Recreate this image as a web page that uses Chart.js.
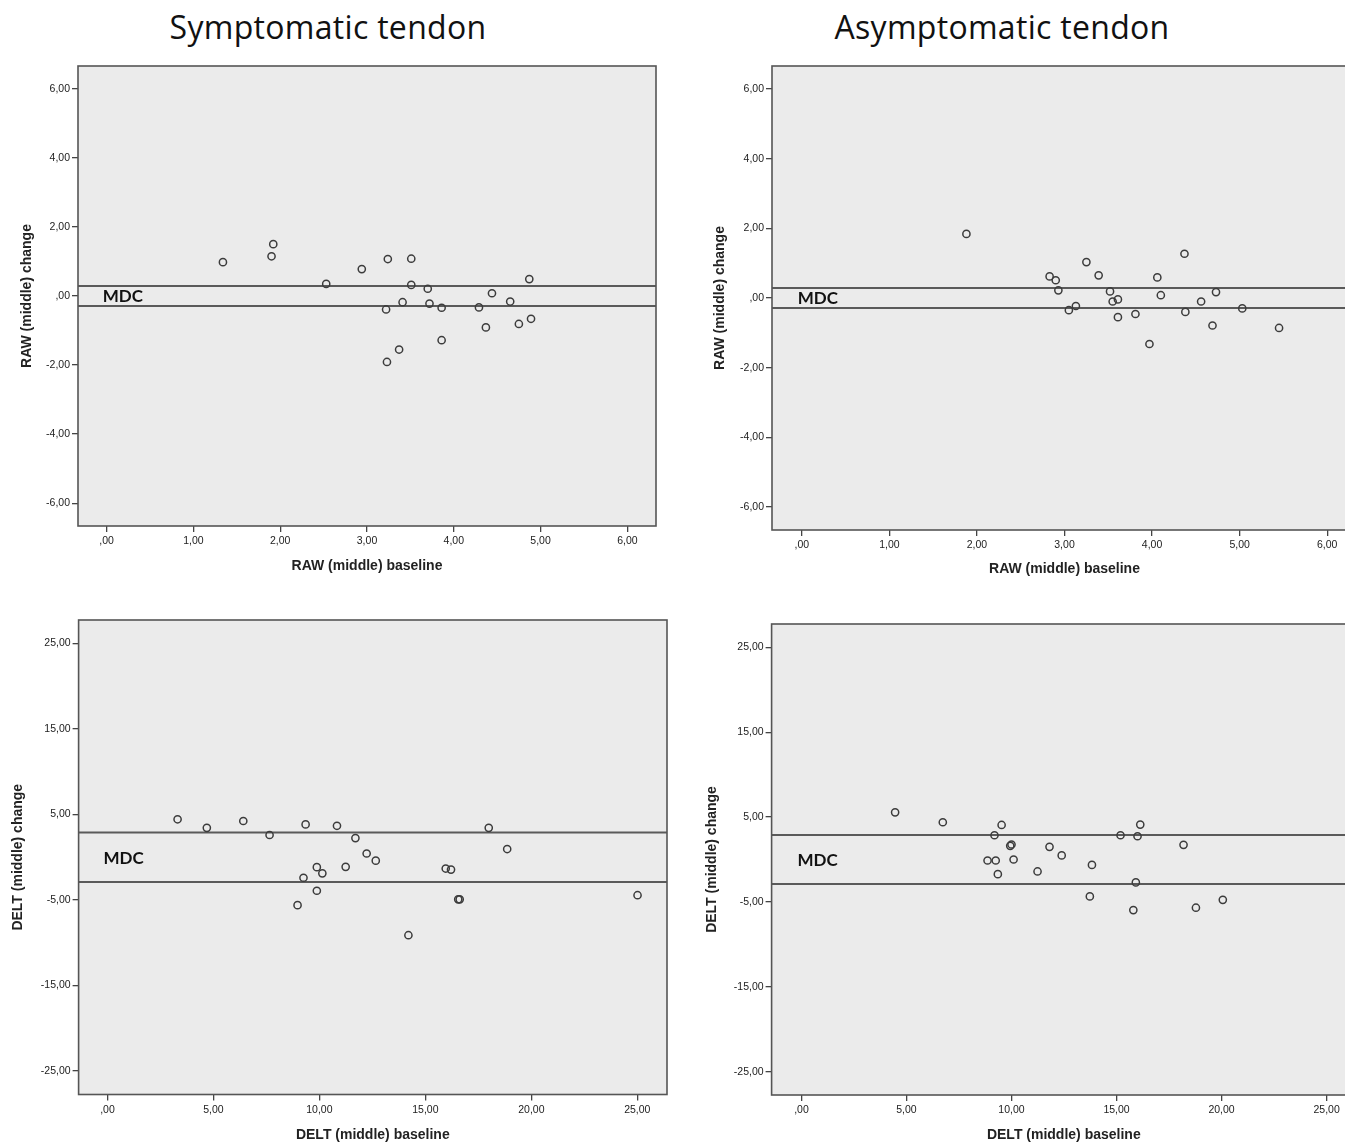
<!DOCTYPE html>
<html>
<head>
<meta charset="utf-8">
<script src="https://cdn.jsdelivr.net/npm/chart.js@4.4.1/dist/chart.umd.min.js"></script>
<style>
  html, body { margin: 0; padding: 0; background: #fff; }
  #page { position: relative; width: 1345px; height: 1143px; overflow: hidden; }
  .title { position: absolute; top: 5px; font-family: "Open Sans", Lato, sans-serif; font-size: 32px; letter-spacing: 0.3px; color: #111; transform: translateX(-50%); white-space: nowrap; }
  .box { position: absolute; }
</style>
</head>
<body>
<div id="page">
  <div class="title" style="left:328px">Symptomatic tendon</div>
  <div class="title" style="left:1002px">Asymptomatic tendon</div>
  <div class="box" style="left:0px;top:50px;width:670px;height:525px"><canvas id="c1"></canvas></div>
  <div class="box" style="left:694px;top:50px;width:673px;height:528px"><canvas id="c2"></canvas></div>
  <div class="box" style="left:0px;top:600px;width:680px;height:544px"><canvas id="c3"></canvas></div>
  <div class="box" style="left:693px;top:600px;width:673px;height:544px"><canvas id="c4"></canvas></div>
</div>
<script>
// RAW (middle) - symptomatic tendon
const sympRawBase   = [1.34, 1.92, 1.90, 2.53, 2.94, 3.24, 3.51, 3.51, 3.70, 3.41, 3.22, 3.72, 3.86, 4.29, 4.44, 4.65, 4.87, 4.89, 4.75, 4.37, 3.86, 3.37, 3.23];
const sympRawChange = [0.98, 1.50, 1.15, 0.35, 0.78, 1.07, 1.08, 0.32, 0.21, -0.18, -0.39, -0.22, -0.34, -0.33, 0.08, -0.16, 0.49, -0.66, -0.81, -0.91, -1.28, -1.55, -1.91];
// RAW (middle) - asymptomatic tendon
const asymRawBase   = [1.88, 2.83, 2.90, 2.93, 3.25, 3.39, 3.05, 3.13, 3.52, 3.55, 3.61, 3.61, 3.81, 3.97, 4.06, 4.10, 4.37, 4.38, 4.56, 4.73, 4.69, 5.03, 5.45];
const asymRawChange = [1.84, 0.62, 0.51, 0.22, 1.03, 0.65, -0.35, -0.23, 0.19, -0.10, -0.04, -0.55, -0.46, -1.32, 0.59, 0.08, 1.27, -0.40, -0.10, 0.17, -0.79, -0.30, -0.86];
// DELT (middle) - symptomatic tendon
const sympDeltBase   = [3.31, 4.69, 6.41, 7.65, 9.35, 10.83, 11.70, 12.23, 12.66, 9.88, 10.14, 11.24, 9.25, 9.88, 8.97, 15.96, 16.21, 16.55, 16.62, 17.99, 18.86, 14.20, 25.01];
const sympDeltChange = [4.44, 3.44, 4.24, 2.60, 3.84, 3.68, 2.24, 0.44, -0.40, -1.16, -1.88, -1.12, -2.40, -3.92, -5.60, -1.32, -1.44, -4.92, -4.92, 3.44, 0.96, -9.12, -4.44];
// DELT (middle) - asymptomatic tendon
const asymDeltBase   = [4.46, 6.73, 9.53, 9.19, 9.94, 10.00, 8.86, 9.25, 9.35, 10.10, 11.24, 11.81, 12.39, 13.83, 13.73, 15.19, 16.00, 16.13, 15.92, 15.80, 18.19, 18.78, 20.06];
const asymDeltChange = [5.56, 4.39, 4.07, 2.86, 1.61, 1.77, -0.12, -0.12, -1.73, 0.00, -1.41, 1.49, 0.48, -0.64, -4.35, 2.86, 2.74, 4.11, -2.70, -5.96, 1.73, -5.68, -4.75];

// minimal detectable change bands
const rawMdc = 0.29;
const deltMdc = 2.9;
const mdcLabel = 'MDC';

// tick values
const rawXTicks  = [0, 1, 2, 3, 4, 5, 6];
const rawYTicks  = [-6, -4, -2, 0, 2, 4, 6];
const deltXTicks = [0, 5, 10, 15, 20, 25];
const deltYTicks = [-25, -15, -5, 5, 15, 25];

const tickFont = { family: "'Liberation Sans', Arial, sans-serif", size: 10.5 };
const titleFont = { family: "'Liberation Sans', Arial, sans-serif", size: 14, weight: 'bold' };

// comma decimals, SPSS style (",00" for zero)
function fmt(v) {
  let s = Math.abs(v).toFixed(2).replace('.', ',');
  if (Math.abs(v) < 1) s = s.slice(1);
  return (v < 0 ? '-' : '') + s;
}

const framePlugin = {
  id: 'frame',
  beforeDatasetsDraw(chart) {
    const a = chart.chartArea, ctx = chart.ctx;
    ctx.save();
    ctx.fillStyle = '#ebebeb';
    ctx.fillRect(a.left, a.top, a.right - a.left, a.bottom - a.top);
    ctx.restore();
  },
  afterDatasetsDraw(chart) {
    const a = chart.chartArea, ctx = chart.ctx;
    ctx.save();
    ctx.strokeStyle = '#555';
    ctx.lineWidth = 1.6;
    ctx.strokeRect(a.left, a.top, a.right - a.left, a.bottom - a.top);
    // MDC label
    const xs = chart.scales.x, ys = chart.scales.y;
    ctx.fillStyle = '#111';
    ctx.font = "bold 17px Lato, 'Open Sans', sans-serif";
    ctx.textBaseline = 'middle';
    ctx.fillText(mdcLabel, xs.getPixelForValue(0) - 4, ys.getPixelForValue(0) + 1);
    ctx.restore();
  }
};

function makeChart(id, o) {
  const pts = o.xs.map((x, i) => ({ x: x, y: o.ys[i] }));
  const line = v => [{ x: o.xMin, y: v }, { x: o.xMax, y: v }];
  const lineDs = v => ({
    type: 'line', data: line(v), borderColor: '#5a5a5a', borderWidth: 2,
    pointRadius: 0, fill: false, order: 2
  });
  return new Chart(document.getElementById(id), {
    type: 'scatter',
    data: {
      datasets: [
        {
          data: pts, pointStyle: 'circle', pointRadius: 3.6, pointBorderWidth: 1.5,
          pointBorderColor: '#3c3c3c', pointBackgroundColor: 'rgba(0,0,0,0)', order: 1
        },
        lineDs(o.mdc), lineDs(-o.mdc)
      ]
    },
    options: {
      responsive: true, maintainAspectRatio: false, animation: false,
      layout: { padding: { top: o.padTop, right: o.padRight, left: 0, bottom: 0 } },
      plugins: { legend: { display: false }, tooltip: { enabled: false } },
      scales: {
        x: {
          type: 'linear', min: o.xMin, max: o.xMax,
          afterBuildTicks: s => { s.ticks = o.xTicks.map(v => ({ value: v })); },
          afterFit: s => { s.height = o.xH; },
          grid: { display: true, drawOnChartArea: false, drawTicks: true, tickLength: 6, color: '#444', lineWidth: 1.3 },
          border: { display: false },
          ticks: { font: tickFont, color: '#222', padding: 3, callback: v => fmt(v), maxRotation: 0 },
          title: { display: true, text: o.xTitle, font: titleFont, color: '#222', padding: { top: 0, bottom: 0 } }
        },
        y: {
          type: 'linear', min: o.yMin, max: o.yMax,
          afterBuildTicks: s => { s.ticks = o.yTicks.map(v => ({ value: v })); },
          afterFit: s => { s.width = o.yW; },
          grid: { display: true, drawOnChartArea: false, drawTicks: true, tickLength: 6, color: '#444', lineWidth: 1.3 },
          border: { display: false },
          ticks: { font: tickFont, color: '#222', padding: 2, callback: v => fmt(v) },
          title: { display: true, text: o.yTitle, font: titleFont, color: '#222', padding: { top: o.yTitlePad, bottom: 0 } }
        }
      }
    },
    plugins: [framePlugin]
  });
}

makeChart('c1', {
  xs: sympRawBase, ys: sympRawChange, mdc: rawMdc,
  xMin: -0.33, xMax: 6.33, yMin: -6.66, yMax: 6.66, xTicks: rawXTicks, yTicks: rawYTicks,
  xTitle: 'RAW (middle) baseline', yTitle: 'RAW (middle) change',
  padTop: 16, padRight: 14, yW: 78, xH: 49, yTitlePad: 19
});
makeChart('c2', {
  xs: asymRawBase, ys: asymRawChange, mdc: rawMdc,
  xMin: -0.34, xMax: 6.34, yMin: -6.66, yMax: 6.66, xTicks: rawXTicks, yTicks: rawYTicks,
  xTitle: 'RAW (middle) baseline', yTitle: 'RAW (middle) change',
  padTop: 16, padRight: 10, yW: 78, xH: 48, yTitlePad: 18
});
makeChart('c3', {
  xs: sympDeltBase, ys: sympDeltChange, mdc: deltMdc,
  xMin: -1.36, xMax: 26.4, yMin: -27.75, yMax: 27.75, xTicks: deltXTicks, yTicks: deltYTicks,
  xTitle: 'DELT (middle) baseline', yTitle: 'DELT (middle) change',
  padTop: 20, padRight: 13, yW: 78.6, xH: 49.5, yTitlePad: 9.6
});
makeChart('c4', {
  xs: asymDeltBase, ys: asymDeltChange, mdc: deltMdc,
  xMin: -1.42, xMax: 26.4, yMin: -27.75, yMax: 27.75, xTicks: deltXTicks, yTicks: deltYTicks,
  xTitle: 'DELT (middle) baseline', yTitle: 'DELT (middle) change',
  padTop: 24, padRight: 10, yW: 78.6, xH: 49, yTitlePad: 10.6
});
</script>
</body>
</html>
